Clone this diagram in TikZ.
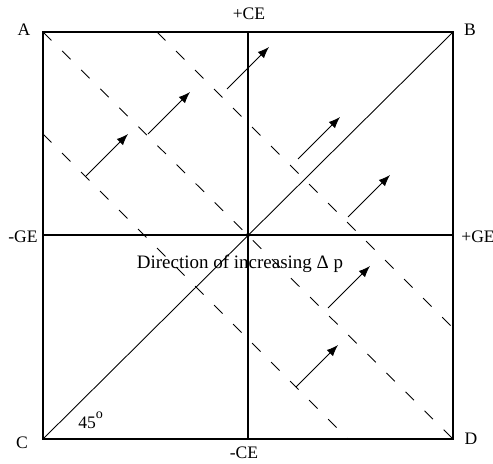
\documentclass[tikz,border=0pt]{standalone}
\usepackage{fontspec}
\setmainfont{Liberation Serif}
\usetikzlibrary{arrows.meta}
\tikzstyle{lbl}=[inner sep=0pt,font=\fontsize{10}{12}\selectfont]
\tikzstyle{frame}=[line width=0.8pt]
\tikzstyle{dline}=[dash pattern=on 6.8pt off 8.5pt,line width=0.5pt]
\tikzstyle{dirarrow}=[-{Latex[length=6.5pt,width=5pt]},line width=0.5pt]

\begin{document}
\begin{tikzpicture}[x=0.02cm,y=-0.02cm]
\useasboundingbox (0,0) rectangle (493,463);
% corners of the square and ends of the axes
\coordinate (A) at (43,32);\coordinate (B) at (453,32);
\coordinate (C) at (43,439);\coordinate (D) at (453,439);
\coordinate (ml) at (43,235);\coordinate (mr) at (453,235);
\coordinate (mt) at (248,32);\coordinate (mb) at (248,439);
% ends of the dashed lines
\coordinate (p1) at (43,134);\coordinate (q1) at (348,439);
\coordinate (p3) at (157,32);\coordinate (q3) at (453,328);
\draw[frame] (A) rectangle (D);
\draw[frame] (ml)--(mr);\draw[frame] (mt)--(mb);
\draw[line width=0.5pt] (C)--(B);
\draw[dline] (p1)--(q1);\draw[dline] (A)--(D);\draw[dline] (p3)--(q3);
\node[circle,fill=black,inner sep=0pt,minimum size=0.08cm] (O) at (248,235) {};
% arrows
\foreach \i/\x/\y in {1/86/176,2/148/134,3/227/89,4/298/159,5/348/217,6/328/308,7/296/387}{
\coordinate (s\i) at (\x,\y);\coordinate (e\i) at (\x+42,\y-42);
\draw[dirarrow] (s\i)--(e\i);}
% labels
\node[lbl] (lA) at (24,30) {A};
\node[lbl] (lB) at (470,30) {B};
\node[lbl] (lC) at (22,443) {C};
\node[lbl] (lD) at (471,439) {D};
\node[lbl] (lpce) at (249,14) {+CE};
\node[lbl] (lmce) at (244,453) {-CE};
\node[lbl] (lmge) at (23,237) {-GE};
\node[lbl] (lpge) at (478,237) {+GE};
\node[lbl,anchor=base west] (l45) at (78,428) {45\raisebox{1.15ex}{\footnotesize o}};
\node[lbl,anchor=base,font=\fontsize{10.8}{13}\selectfont] (ldir) at (240,268) {Direction of increasing Δ p};
\end{tikzpicture}
\end{document}
